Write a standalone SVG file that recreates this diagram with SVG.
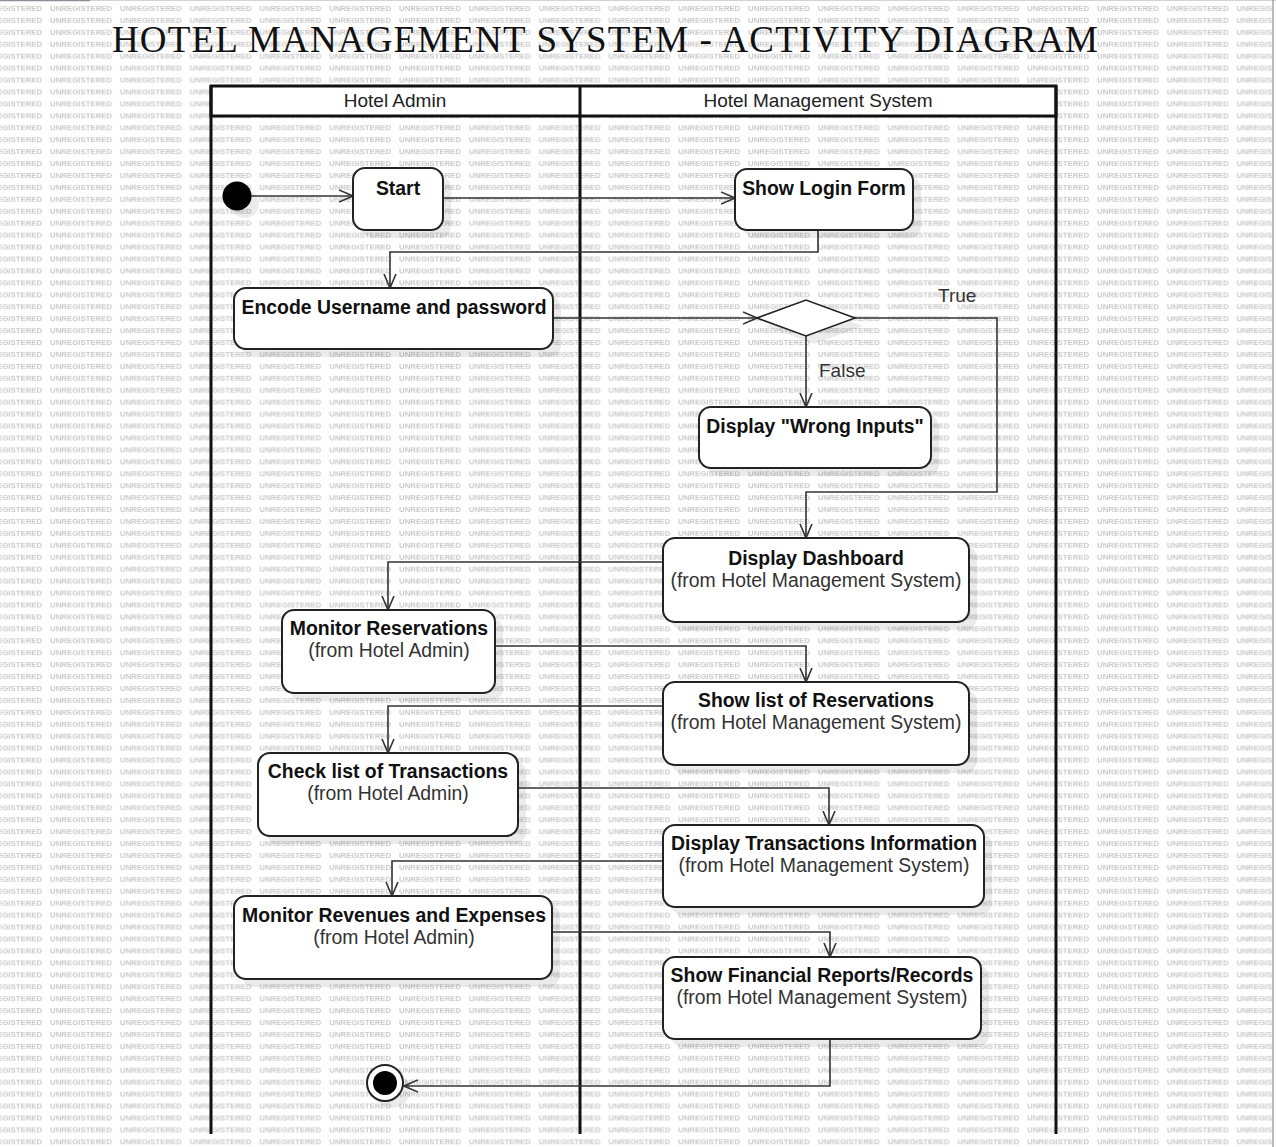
<svg xmlns="http://www.w3.org/2000/svg" width="1276" height="1147" viewBox="0 0 1276 1147">
<style>
.wm{font-family:"Liberation Sans",Arial,sans-serif;font-size:7.6px;font-weight:bold;fill:#c9c9c9}
.title{font-family:"Liberation Serif","Times New Roman",serif;font-size:37px;fill:#111}
.lane{fill:#fff;stroke:#111;stroke-width:3}
.laneline{stroke:#111;stroke-width:3}
.hdr{font-family:"Liberation Sans",Arial,sans-serif;font-size:19px;fill:#222;text-anchor:middle}
.box{fill:#fff;stroke:#222;stroke-width:2}
.sh{fill:#000;fill-opacity:0.08}
.t{font-family:"Liberation Sans",Arial,sans-serif;font-size:19.4px;font-weight:bold;fill:#111;text-anchor:middle}
.s{font-family:"Liberation Sans",Arial,sans-serif;font-size:19.4px;fill:#333;text-anchor:middle}
.lbl{font-family:"Liberation Sans",Arial,sans-serif;font-size:19px;fill:#333}
.conn path{fill:none;stroke:#333;stroke-width:1.6;marker-end:url(#arr)}
</style>
<defs>
<pattern id="wmp" patternUnits="userSpaceOnUse" x="50" y="2" width="69.8" height="11.93">
<text class="wm" x="0" y="9" textLength="62" lengthAdjust="spacingAndGlyphs">UNREGISTERED</text>
</pattern>
<marker id="arr" markerUnits="userSpaceOnUse" viewBox="0 0 15 14" markerWidth="15" markerHeight="14" refX="14" refY="7" orient="auto">
<path d="M0,1 L14,7 L0,13" fill="none" stroke="#333" stroke-width="1.6"/>
</marker>
</defs>
<rect x="0" y="0" width="1276" height="1147" fill="#fff"/>
<rect x="0" y="2" width="1272" height="1143" fill="url(#wmp)"/>
<line x1="0" y1="0.5" x2="1276" y2="0.5" stroke="#d0d4da" stroke-width="1"/>
<line x1="0" y1="0.5" x2="90" y2="0.5" stroke="#8a9099" stroke-width="1.5"/>
<line x1="1273" y1="0" x2="1273" y2="1147" stroke="#777" stroke-width="1"/>

<text class="title" x="112" y="52" textLength="986" lengthAdjust="spacing">HOTEL MANAGEMENT SYSTEM - ACTIVITY DIAGRAM</text>

<g id="swimlanes">
<rect class="lane" x="211" y="86" width="845" height="30"/>
<line class="laneline" x1="211" y1="86" x2="211" y2="1134"/>
<line class="laneline" x1="580" y1="86" x2="580" y2="1134"/>
<line class="laneline" x1="1056" y1="86" x2="1056" y2="1134"/>
<text class="hdr" x="395" y="107">Hotel Admin</text>
<text class="hdr" x="818" y="107">Hotel Management System</text>
</g>

<g id="connectors" class="conn">
<path d="M251,196 L353,196"/>
<path d="M443,198 L735,198"/>
<path d="M818,230 L818,252 L390,252 L390,288"/>
<path d="M553,318 L757,318"/>
<path d="M806,336 L806,407"/>
<path d="M855,318 L997,318 L997,492 L806,492 L806,538"/>
<path d="M663,562 L388,562 L388,610"/>
<path d="M495,646 L806,646 L806,682"/>
<path d="M663,706 L388,706 L388,753"/>
<path d="M518,788 L829,788 L829,825"/>
<path d="M663,861 L392,861 L392,896"/>
<path d="M552,932 L830,932 L830,957"/>
<path d="M830,1039 L830,1086 L404,1086"/>
<text class="lbl" x="938" y="302">True</text>
<text class="lbl" x="819" y="377">False</text>
</g>

<g id="initial">
<circle class="sh" cx="245" cy="204" r="14"/>
<circle cx="237" cy="196" r="14.5" fill="#000"/>
</g>

<g id="start">
<rect class="sh" x="361" y="176" width="90" height="62" rx="12"/>
<rect class="box" x="353" y="168" width="90" height="62" rx="12"/>
<text class="t" x="398" y="195">Start</text>
</g>

<g id="show-login-form">
<rect class="sh" x="743" y="177" width="178" height="61" rx="12"/>
<rect class="box" x="735" y="169" width="178" height="61" rx="12"/>
<text class="t" x="824" y="195">Show Login Form</text>
</g>

<g id="encode">
<rect class="sh" x="242" y="296" width="319" height="61" rx="12"/>
<rect class="box" x="234" y="288" width="319" height="61" rx="12"/>
<text class="t" x="394" y="314">Encode Username and password</text>
</g>

<g id="decision">
<polygon class="sh" points="765,326 814,308 863,326 814,344"/>
<polygon points="757,318 806,300 855,318 806,336" fill="#fff" stroke="#222" stroke-width="1.6"/>
</g>

<g id="wrong-inputs">
<rect class="sh" x="707" y="415" width="232" height="61" rx="12"/>
<rect class="box" x="699" y="407" width="232" height="61" rx="12"/>
<text class="t" x="815" y="433">Display "Wrong Inputs"</text>
</g>

<g id="dashboard">
<rect class="sh" x="671" y="546" width="306" height="84" rx="12"/>
<rect class="box" x="663" y="538" width="306" height="84" rx="12"/>
<text class="t" x="816" y="565">Display Dashboard</text>
<text class="s" x="816" y="587">(from Hotel Management System)</text>
</g>

<g id="monitor-reservations">
<rect class="sh" x="290" y="618" width="213" height="83" rx="12"/>
<rect class="box" x="282" y="610" width="213" height="83" rx="12"/>
<text class="t" x="389" y="635">Monitor Reservations</text>
<text class="s" x="389" y="657">(from Hotel Admin)</text>
</g>

<g id="show-reservations">
<rect class="sh" x="671" y="690" width="306" height="83" rx="12"/>
<rect class="box" x="663" y="682" width="306" height="83" rx="12"/>
<text class="t" x="816" y="707">Show list of Reservations</text>
<text class="s" x="816" y="729">(from Hotel Management System)</text>
</g>

<g id="check-transactions">
<rect class="sh" x="266" y="761" width="260" height="83" rx="12"/>
<rect class="box" x="258" y="753" width="260" height="83" rx="12"/>
<text class="t" x="388" y="778">Check list of Transactions</text>
<text class="s" x="388" y="800">(from Hotel Admin)</text>
</g>

<g id="display-transactions">
<rect class="sh" x="671" y="833" width="321" height="82" rx="12"/>
<rect class="box" x="663" y="825" width="321" height="82" rx="12"/>
<text class="t" x="824" y="850">Display Transactions Information</text>
<text class="s" x="824" y="872">(from Hotel Management System)</text>
</g>

<g id="monitor-revenues">
<rect class="sh" x="242" y="904" width="318" height="83" rx="12"/>
<rect class="box" x="234" y="896" width="318" height="83" rx="12"/>
<text class="t" x="394" y="922">Monitor Revenues and Expenses</text>
<text class="s" x="394" y="944">(from Hotel Admin)</text>
</g>

<g id="financial-reports">
<rect class="sh" x="671" y="965" width="318" height="82" rx="12"/>
<rect class="box" x="663" y="957" width="318" height="82" rx="12"/>
<text class="t" x="822" y="982">Show Financial Reports/Records</text>
<text class="s" x="822" y="1004">(from Hotel Management System)</text>
</g>

<g id="final">
<circle class="sh" cx="392" cy="1090" r="18"/>
<circle cx="385" cy="1083" r="18" fill="#fff" stroke="#222" stroke-width="2"/>
<circle cx="385" cy="1083" r="12" fill="#000"/>
</g>
</svg>
